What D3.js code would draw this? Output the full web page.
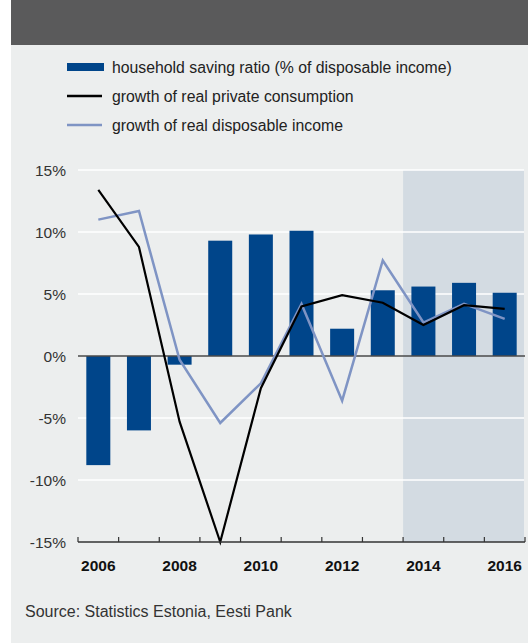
<!DOCTYPE html>
<html>
<head>
<meta charset="utf-8">
<script src="https://cdn.jsdelivr.net/npm/d3@7"></script>
<style>
	body { margin: 0; background: white; }
	svg { display: block; font-family: "Liberation Sans", Arial, sans-serif; }
</style>
</head>
<body>
<script>
var years = [2006, 2007, 2008, 2009, 2010, 2011, 2012, 2013, 2014, 2015, 2016]
var savingRatio = [-8.8, -6.0, -0.7, 9.3, 9.8, 10.1, 2.2, 5.3, 5.6, 5.9, 5.1]
var consumption = [13.4, 8.8, -5.3, -15.0, -2.6, 4.0, 4.9, 4.3, 2.5, 4.1, 3.8]
var income = [11.0, 11.7, -0.3, -5.4, -2.2, 4.2, -3.6, 7.7, 2.7, 4.2, 3.0]
var yTicks = [-15, -10, -5, 0, 5, 10, 15]
var xLabels = [2006, 2008, 2010, 2012, 2014, 2016]
var forecastFrom = 2014
var legendLabels = [
	'household saving ratio (% of disposable income)',
	'growth of real private consumption',
	'growth of real disposable income'
]

var width = 528,
	height = 643

var svg = d3.select("body").append("svg")
	.attr("width", width)
	.attr("height", height)

// background panel + title bar
svg.append('rect')
	.attr('x', 11).attr('y', 0)
	.attr('width', width - 11).attr('height', height)
	.attr('fill', '#eceeee')
svg.append('rect')
	.attr('x', 11).attr('y', 0)
	.attr('width', width - 11).attr('height', 45)
	.attr('fill', '#5a5a5b')

// band edges for ticks / shading
var xEdge = d3.scaleBand()
	.domain(years)
	.range([78, 525])

var y = d3.scaleLinear()
	.domain([-15, 15])
	.range([542, 170])

var cx = d => xEdge(d) + xEdge.bandwidth() / 2

// forecast shading
svg.append('rect')
	.attr('x', xEdge(forecastFrom))
	.attr('y', y(15))
	.attr('width', 524 - xEdge(forecastFrom))
	.attr('height', y(-15) - y(15))
	.attr('fill', '#d3dbe2')

// gridlines
svg.selectAll('.grid')
	.data(yTicks.filter(d => d != 0 && d != -15))
	.enter()
	.append('line')
		.attr('x1', 78).attr('x2', 524)
		.attr('y1', d => y(d)).attr('y2', d => y(d))
		.attr('stroke', 'white')
		.attr('stroke-width', 1.5)

// y labels
svg.selectAll('.ylab')
	.data(yTicks)
	.enter()
	.append('text')
		.attr('x', 66)
		.attr('y', d => y(d) + 5.5)
		.attr('text-anchor', 'end')
		.attr('font-size', 15.5)
		.attr('fill', '#333')
		.text(d => d + '%')

// bars
svg.selectAll('.bar')
	.data(years)
	.enter()
	.append('rect')
		.attr('x', (d, i) => cx(d) - 12)
		.attr('width', 24)
		.attr('y', (d, i) => y(Math.max(0, savingRatio[i])))
		.attr('height', (d, i) => Math.abs(y(savingRatio[i]) - y(0)))
		.attr('fill', '#00458a')

// zero line
svg.append('line')
	.attr('x1', 78).attr('x2', 525)
	.attr('y1', y(0)).attr('y2', y(0))
	.attr('stroke', '#4a4a4a')
	.attr('stroke-width', 1.5)

var line = d3.line()
	.x((d, i) => cx(years[i]))
	.y(d => y(d))

svg.append('path')
	.attr('d', line(income))
	.attr('fill', 'none')
	.attr('stroke', '#7f94c4')
	.attr('stroke-width', 2.5)

svg.append('path')
	.attr('d', line(consumption))
	.attr('fill', 'none')
	.attr('stroke', 'black')
	.attr('stroke-width', 2.2)

// x axis
var xAxis = svg.append('g')
xAxis.append('line')
	.attr('x1', 78).attr('x2', 525)
	.attr('y1', y(-15)).attr('y2', y(-15))
	.attr('stroke', '#333')
	.attr('stroke-width', 1.5)
xAxis.selectAll('.tick')
	.data(years.concat([null]))
	.enter()
	.append('line')
		.attr('x1', d => d == null ? 525 : xEdge(d))
		.attr('x2', d => d == null ? 525 : xEdge(d))
		.attr('y1', y(-15)).attr('y2', y(-15) - 5)
		.attr('stroke', '#333')
		.attr('stroke-width', 1.2)
xAxis.selectAll('.xlab')
	.data(xLabels)
	.enter()
	.append('text')
		.attr('x', d => cx(d))
		.attr('y', y(-15) + 29)
		.attr('text-anchor', 'middle')
		.attr('font-size', 15.5)
		.attr('font-weight', 'bold')
		.attr('fill', '#111')
		.text(d => d)

// LEGEND
var lg = svg.selectAll('.legend')
	.data(legendLabels)
	.enter()
	.append('g')
		.attr('transform', (d, i) => 'translate(0,' + (67 + i * 29) + ')')

lg.append('rect')
	.attr('x', 67)
	.attr('y', (d, i) => i == 0 ? -4 : -1.25)
	.attr('width', (d, i) => i == 0 ? 37 : 35)
	.attr('height', (d, i) => i == 0 ? 8 : 2.5)
	.attr('fill', (d, i) => ['#00458a', 'black', '#7f94c4'][i])

lg.append('text')
	.attr('x', 112)
	.attr('y', 5.5)
	.attr('font-size', 15.8)
	.attr('fill', '#222')
	.text(d => d)

svg.append('text')
	.attr('x', 25)
	.attr('y', 617)
	.attr('font-size', 16)
	.attr('fill', '#333')
	.text('Source: Statistics Estonia, Eesti Pank')
</script>
</body>
</html>
